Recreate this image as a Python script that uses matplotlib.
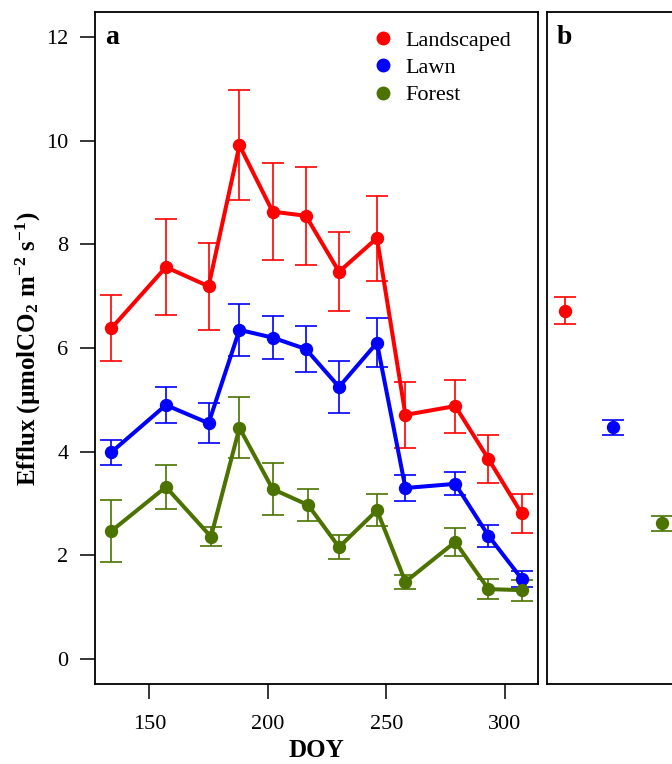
import matplotlib
matplotlib.use("Agg")
import matplotlib.pyplot as plt
from matplotlib.lines import Line2D

plt.rcParams.update({
    'font.family': 'Liberation Serif',
    'mathtext.fontset': 'custom',
    'mathtext.rm': 'Liberation Serif',
    'mathtext.bf': 'Liberation Serif:bold',
    'mathtext.default': 'bf',
})

# panel a: seasonal efflux by land cover
doy = [134, 157, 175, 188, 202, 216, 230, 246, 258, 279, 293, 307]
doy_forest = [134, 157, 176, 188, 202, 217, 230, 246, 258, 279, 293, 307]

landscaped = [6.38, 7.56, 7.19, 9.91, 8.63, 8.55, 7.47, 8.12, 4.71, 4.88, 3.86, 2.81]
landscaped_se = [0.64, 0.93, 0.84, 1.06, 0.93, 0.95, 0.76, 0.82, 0.64, 0.51, 0.46, 0.37]
lawn = [3.99, 4.90, 4.55, 6.35, 6.20, 5.98, 5.25, 6.10, 3.30, 3.38, 2.38, 1.55]
lawn_se = [0.24, 0.34, 0.38, 0.50, 0.42, 0.45, 0.50, 0.47, 0.25, 0.22, 0.21, 0.15]
forest = [2.47, 3.32, 2.36, 4.46, 3.28, 2.97, 2.16, 2.87, 1.49, 2.26, 1.35, 1.33]
forest_se = [0.60, 0.43, 0.18, 0.59, 0.50, 0.31, 0.23, 0.31, 0.13, 0.27, 0.20, 0.20]

# panel b: season means
b_pos = [1, 2, 3]
b_mean = [6.72, 4.47, 2.62]
b_se = [0.26, 0.15, 0.14]

names = ['Landscaped', 'Lawn', 'Forest']
colors = ['#FF0000', '#0000FF', '#4C7300']

fig = plt.figure(figsize=(6.72, 7.64), dpi=100)
axa = fig.add_axes([95/672, 80/764, 443/672, 672/764])
axb = fig.add_axes([547/672, 80/764, 443/672, 672/764])

series = [(doy, landscaped, landscaped_se),
          (doy, lawn, lawn_se),
          (doy_forest, forest, forest_se)]
for (x, y, se), c in zip(series, colors):
    axa.errorbar(x, y, yerr=se, color=c, lw=2.9, marker='o', ms=8.6,
                 elinewidth=1.2, capsize=7.7, capthick=1.2)

axa.set_xlim(127.1, 313.9)
axa.set_ylim(-0.48, 12.48)
axa.set_xticks([150, 200, 250, 300])
axa.set_yticks([0, 2, 4, 6, 8, 10, 12])
axa.tick_params(direction='out', length=11, width=1.1, labelsize=16, pad=8)
axa.tick_params(axis='x', pad=11)
axa.set_xlabel('DOY', fontsize=18, fontweight='bold', labelpad=4)
axa.set_ylabel(r'Efflux (µmolCO$_2$ m$^{-2}$ s$^{-1}$)', fontsize=18,
               fontweight='bold')
axa.yaxis.set_label_coords(-0.1175, 0.499)
axa.text(0.022, 0.962, 'a', transform=axa.transAxes, fontsize=20,
         fontweight='bold', va='center', ha='left')

handles = [Line2D([], [], ls='', marker='o', ms=9, color=c) for c in colors]
axa.legend(handles, names, loc='upper right', frameon=False, fontsize=16,
           handlelength=0.6, handletextpad=0.7, labelspacing=0.3,
           borderaxespad=0, bbox_to_anchor=(0.96, 0.986))

for x, y, se, c in zip(b_pos, b_mean, b_se, colors):
    axb.errorbar(x, y, yerr=se, color=c, marker='o', ms=8.6, ls='',
                 elinewidth=1.2, capsize=7.7, capthick=1.2)
axb.set_xlim(0.63, 0.63 + 443/48.5)
axb.set_ylim(-0.48, 12.48)
axb.set_xticks([])
axb.set_yticks([])
axb.text(0.022, 0.962, 'b', transform=axb.transAxes, fontsize=20,
         fontweight='bold', va='center', ha='left')

for ax in (axa, axb):
    for s in ax.spines.values():
        s.set_linewidth(1.3)

fig.savefig('out.png', dpi=100)
